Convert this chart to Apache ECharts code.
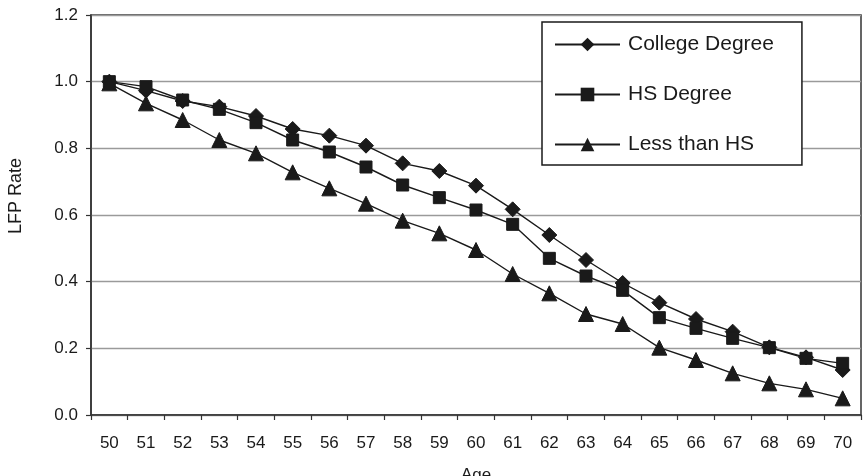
<!DOCTYPE html>
<html>
<head>
<meta charset="utf-8">
<script src="https://cdn.jsdelivr.net/npm/echarts@6/dist/echarts.min.js"></script>
<style>
  html, body { margin: 0; padding: 0; background: #fff; }
  #chart { width: 865px; height: 476px; }
</style>
</head>
<body>
<div id="chart"></div>
<script>
// Labour-force participation rate by age, for three education groups
const ages = ['50','51','52','53','54','55','56','57','58','59','60',
              '61','62','63','64','65','66','67','68','69','70'];
const collegeDegree = [1.00, 0.973, 0.942, 0.925, 0.897, 0.858, 0.838, 0.808, 0.755, 0.732, 0.688,
                       0.617, 0.540, 0.465, 0.396, 0.337, 0.288, 0.250, 0.203, 0.173, 0.135];
const hsDegree      = [1.00, 0.985, 0.945, 0.917, 0.877, 0.825, 0.789, 0.744, 0.690, 0.652, 0.615,
                       0.572, 0.470, 0.417, 0.374, 0.292, 0.260, 0.230, 0.202, 0.170, 0.155];
const lessThanHS    = [0.995, 0.935, 0.885, 0.825, 0.785, 0.728, 0.680, 0.634, 0.583, 0.545, 0.495,
                       0.423, 0.365, 0.303, 0.273, 0.202, 0.165, 0.125, 0.095, 0.077, 0.050];
const yTicks = [0, 0.2, 0.4, 0.6, 0.8, 1.0, 1.2];

const ink = '#1a1a1a';
const font = 'Liberation Sans, Arial, sans-serif';

function lineSeries(name, data, symbol, size) {
  return {
    name: name,
    type: 'line',
    data: data,
    symbol: symbol,
    symbolSize: size,
    showAllSymbol: true,
    lineStyle: { color: ink, width: 1.4 },
    itemStyle: { color: ink, borderColor: ink },
    emphasis: { disabled: true },
    animation: false
  };
}

const chart = echarts.init(document.getElementById('chart'), null, { renderer: 'canvas' });
chart.setOption({
  backgroundColor: '#fff',
  animation: false,
  grid: {
    left: 91, right: 4, top: 15, bottom: 61,
    outerBoundsMode: 'none',
    containLabel: false,
    show: true, borderColor: '#333', borderWidth: 1.5, backgroundColor: 'transparent'
  },
  legend: {
    orient: 'vertical',
    left: 542, top: 22,
    padding: [12, 28, 10, 12],
    itemWidth: 65, itemHeight: 17, itemGap: 29,
    borderColor: ink, borderWidth: 1.5,
    backgroundColor: '#fff',
    textStyle: { fontFamily: font, fontSize: 21, color: ink, padding: [0, 0, 0, 3] },
    data: ['College Degree', 'HS Degree', 'Less than HS']
  },
  xAxis: {
    type: 'category',
    data: ages,
    boundaryGap: true,
    name: 'Age',
    nameLocation: 'middle',
    nameGap: 52,
    nameTextStyle: { fontFamily: font, fontSize: 17, color: ink },
    axisLine: { lineStyle: { color: '#333', width: 1.5 } },
    axisTick: { show: true, alignWithLabel: false, length: 5, lineStyle: { color: '#333', width: 1.2 } },
    axisLabel: { fontFamily: font, fontSize: 17, color: ink, margin: 20, interval: 0 },
    splitLine: { show: false }
  },
  yAxis: {
    type: 'value',
    min: 0, max: 1.2, interval: 0.2,
    name: 'LFP Rate',
    nameLocation: 'middle',
    nameGap: 66,
    nameTextStyle: { fontFamily: font, fontSize: 18, color: ink, padding: [0, 0, 0, 38] },
    axisLine: { show: true, lineStyle: { color: '#333', width: 1.5 } },
    axisTick: { show: true, length: 5, lineStyle: { color: '#333', width: 1.2 } },
    axisLabel: {
      fontFamily: font, fontSize: 17, color: ink, margin: 13,
      formatter: v => yTicks.includes(Math.round(v * 10) / 10) ? v.toFixed(1) : ''
    },
    splitLine: { show: true, lineStyle: { color: '#9a9a9a', width: 1.3 } }
  },
  series: [
    lineSeries('College Degree', collegeDegree, 'diamond', 15),
    lineSeries('HS Degree', hsDegree, 'rect', 12),
    lineSeries('Less than HS', lessThanHS, 'triangle', 15)
  ]
});
</script>
</body>
</html>
